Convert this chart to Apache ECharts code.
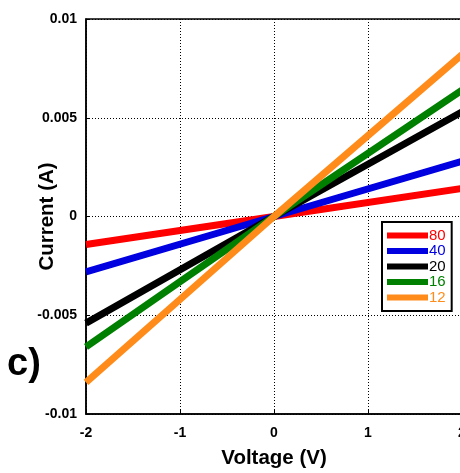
<!DOCTYPE html>
<html>
<head>
<meta charset="utf-8">
<script src="https://cdn.jsdelivr.net/npm/echarts@6/dist/echarts.min.js"></script>
<style>
  html, body { margin: 0; padding: 0; background: #fff; }
  #main { width: 460px; height: 473px; }
</style>
</head>
<body>
<div id="main"></div>
<script>
        // data (current in A at V = -2, 0, 2)
        var voltage = [-2, 0, 2];
        var names = ['80', '40', '20', '16', '12'];
        var colors = ['#ff0000', '#0000e0', '#000000', '#008000', '#ff8c1a'];
        var current80 = [-0.00142, 0, 0.00142];
        var current40 = [-0.0028, 0, 0.0028];
        var current20 = [-0.0054, 0, 0.0053];
        var current16 = [-0.0066, 0, 0.0064];
        var current12 = [-0.0084, 0, 0.0082];
        var currents = [current80, current40, current20, current16, current12];

        var myChart = echarts.init(document.getElementById('main'));

        var font = 'Liberation Sans, Arial, sans-serif';

        var series = names.map(function (n, i) {
            return {
                name: n,
                type: 'line',
                symbol: 'none',
                data: voltage.map(function (v, k) { return [v, currents[i][k]]; }),
                lineStyle: { color: colors[i], width: 7 },
                itemStyle: { color: colors[i] }
            };
        });

        var option = {
    backgroundColor: '#fff',
    animation: false,
    grid: {
        left: 86,
        top: 19,
        right: -2,
        bottom: 59,
        outerBoundsMode: 'none',
        show: true,
        borderColor: '#000',
        borderWidth: 1.5
    },
    legend: {
        orient: 'vertical',
        left: 382,
        top: 222,
        width: 70,
        backgroundColor: '#fff',
        borderColor: '#000',
        borderWidth: 2,
        padding: [6, 6, 6, 5],
        itemWidth: 41,
        itemHeight: 6,
        itemGap: 0.5,
        icon: 'rect',
        textStyle: { fontFamily: font, fontSize: 15, lineHeight: 15, padding: [0, 0, 0, -4] },
        data: names.map(function (n, i) {
            return { name: n, textStyle: { color: colors[i] } };
        })
    },
    xAxis: {
        type: 'value',
        min: -2,
        max: 2,
        interval: 1,
        name: 'Voltage (V)',
        nameLocation: 'middle',
        nameGap: 34,
        nameMoveOverlap: false,
        nameTextStyle: { fontFamily: font, fontSize: 20.5, fontWeight: 'bold', color: '#000' },
        axisLine: { show: true, onZero: false, lineStyle: { color: '#000', width: 1.5 } },
        axisTick: { show: true, inside: true, length: 4, lineStyle: { color: '#000' } },
        axisLabel: { fontFamily: font, fontSize: 14, fontWeight: 'bold', color: '#000', margin: 12 },
        splitLine: { show: true, lineStyle: { color: '#000', type: [1, 2], width: 1 } }
    },
    yAxis: {
        type: 'value',
        min: -0.01,
        max: 0.01,
        interval: 0.005,
        name: 'Current (A)',
        nameLocation: 'middle',
        nameGap: 28,
        nameMoveOverlap: false,
        nameTextStyle: { fontFamily: font, fontSize: 20.5, fontWeight: 'bold', color: '#000' },
        axisLine: { show: true, onZero: false, lineStyle: { color: '#000', width: 1.5 } },
        axisTick: { show: true, inside: true, length: 4, lineStyle: { color: '#000' } },
        axisLabel: { fontFamily: font, fontSize: 14, fontWeight: 'bold', color: '#000', margin: 9 },
        splitLine: { show: true, lineStyle: { color: '#000', type: [1, 2], width: 1 } }
    },
    graphic: [
        {
            type: 'text',
            left: 7,
            top: 346,
            style: { text: 'c)', fontFamily: font, fontSize: 38, fontWeight: 'bold', fill: '#000' }
        }
    ],
    series: series
};

        myChart.setOption(option);
</script>
</body>
</html>
